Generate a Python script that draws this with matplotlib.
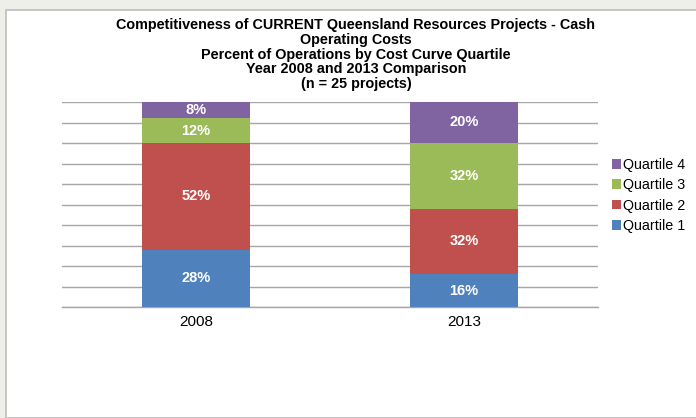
import matplotlib.pyplot as plt
from matplotlib.patches import Rectangle
import numpy as np

years = ['2008', '2013']
quartiles = ['Quartile 1', 'Quartile 2', 'Quartile 3', 'Quartile 4']
q1 = [28, 16]
q2 = [52, 32]
q3 = [12, 32]
q4 = [8, 20]
colors = ['#4F81BD', '#C0504D', '#9BBB59', '#8064A2']

plt.rcParams['font.family'] = ['Liberation Sans', 'DejaVu Sans']

fig = plt.figure(figsize=(6.96, 4.18), dpi=100)
fig.patch.set_facecolor('#EFEFEA')
# white chart panel with a thin border
fig.patches.append(Rectangle((6 / 696, 0), 1.0, (418 - 10) / 418, transform=fig.transFigure,
                             facecolor='white', edgecolor='#BDBDBD', linewidth=1.2, zorder=-5))

ax = fig.add_axes([62 / 696, (418 - 307) / 418, (598 - 62) / 696, (307 - 102) / 418])
ax.set_facecolor('none')

x = np.arange(len(years))
bottom = np.zeros(len(years))
for name, vals, c in zip(quartiles, [q1, q2, q3, q4], colors):
    ax.bar(x, vals, 0.4, bottom=bottom, color=c, label=name, zorder=3)
    for xi, b, v in zip(x, bottom, vals):
        ax.text(xi, b + v / 2, f'{v}%', ha='center', va='center', color='white',
                fontsize=10.5, fontweight='bold', zorder=4)
    bottom += np.array(vals)

ax.set_xlim(-0.5, 1.5)
ax.set_ylim(0, 100)
ax.set_yticks(np.arange(0, 101, 10))
ax.set_yticklabels([])
ax.tick_params(axis='y', length=0)
ax.tick_params(axis='x', length=0, labelsize=11, pad=6)
ax.set_xticks(x)
ax.set_xticklabels(years)
ax.grid(axis='y', color='#A6A6A6', linewidth=1.0, zorder=1)
for s in ['left', 'right', 'top']:
    ax.spines[s].set_visible(False)
ax.spines['bottom'].set_color('#A6A6A6')
ax.spines['bottom'].set_linewidth(1.0)

handles, labels = ax.get_legend_handles_labels()
fig.legend(handles[::-1], labels[::-1], loc='center left', bbox_to_anchor=(612 / 696, (418 - 195.5) / 418),
           frameon=False, fontsize=10.3, handlelength=0.65, handleheight=0.65, handletextpad=0.15,
           labelspacing=0.45, borderaxespad=0, borderpad=0)

title = ('Competitiveness of CURRENT Queensland Resources Projects - Cash\n'
         'Operating Costs\n'
         'Percent of Operations by Cost Curve Quartile\n'
         'Year 2008 and 2013 Comparison\n'
         '(n = 25 projects)')
fig.text(356 / 696, (418 - 18) / 418, title, ha='center', va='top', fontsize=10.4,
         fontweight='bold', linespacing=1.07)

fig.savefig('out.png', dpi=100, facecolor=fig.get_facecolor())
